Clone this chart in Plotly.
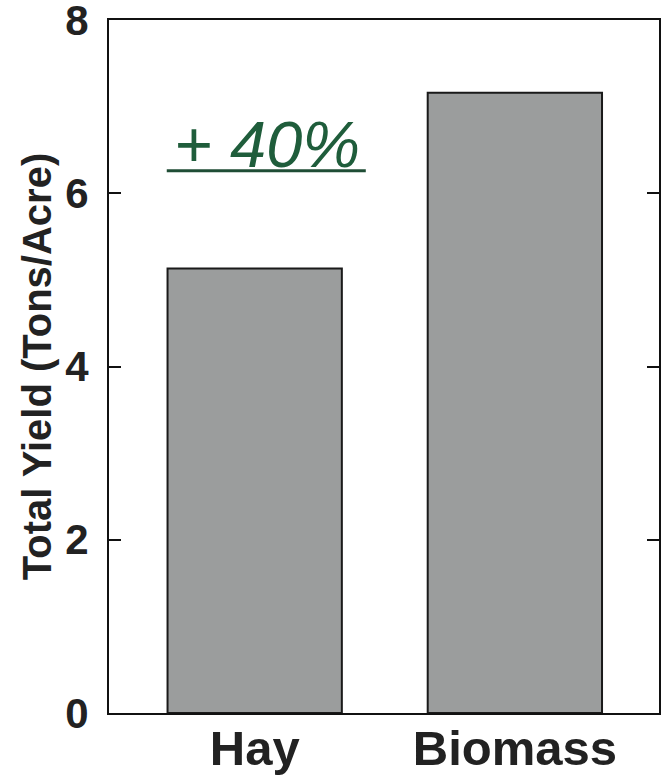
import plotly.graph_objects as go

categories = ["Hay", "Biomass"]
yields = [5.13, 7.16]
y_ticks = [0, 2, 4, 6, 8]
annotation_text = "+ 40%"

FONT = "Liberation Sans, Arial, sans-serif"

fig = go.Figure()
fig.add_trace(go.Bar(
    x=categories, y=yields, width=0.67,
    marker=dict(color="#9b9d9d", line=dict(color="#1a1a1a", width=2)),
))

fig.add_annotation(
    x=0.046, y=6.56, xref="x", yref="y", text="<i>" + annotation_text + "</i>",
    showarrow=False, font=dict(family=FONT, size=65, color="#1f5d3b"),
)
fig.add_shape(type="line", xref="x", yref="y", x0=-0.338, x1=0.427, y0=6.26, y1=6.26,
              line=dict(color="#1f4d35", width=3))

fig.update_layout(
    width=669, height=780,
    margin=dict(l=109, r=10, t=20, b=67),
    paper_bgcolor="white", plot_bgcolor="white",
    showlegend=False,
    bargap=0.33,
)
fig.update_yaxes(
    range=[0, 8.0001], tickvals=y_ticks, ticks="inside", ticklen=12, tickwidth=1.5, tickcolor="#111",
    showline=True, linecolor="#111", linewidth=2, mirror="ticks", showgrid=False, zeroline=False,
    tickfont=dict(family=FONT, size=42, color="#222", weight="bold"), ticklabelstandoff=10,
    ticklabeloverflow="allow", automargin=False,
    title=dict(text="Total Yield (Tons/Acre)", font=dict(family=FONT, size=40, color="#222", weight="bold"),
               standoff=1),
)
fig.update_xaxes(
    range=[-0.56, 1.554], showline=True, linecolor="#111", linewidth=2, mirror=True, ticks="",
    showgrid=False, tickfont=dict(family=FONT, size=49, color="#222", weight="bold"), ticklabelstandoff=-9,
    automargin=False,
)

fig.write_html("out.html")
